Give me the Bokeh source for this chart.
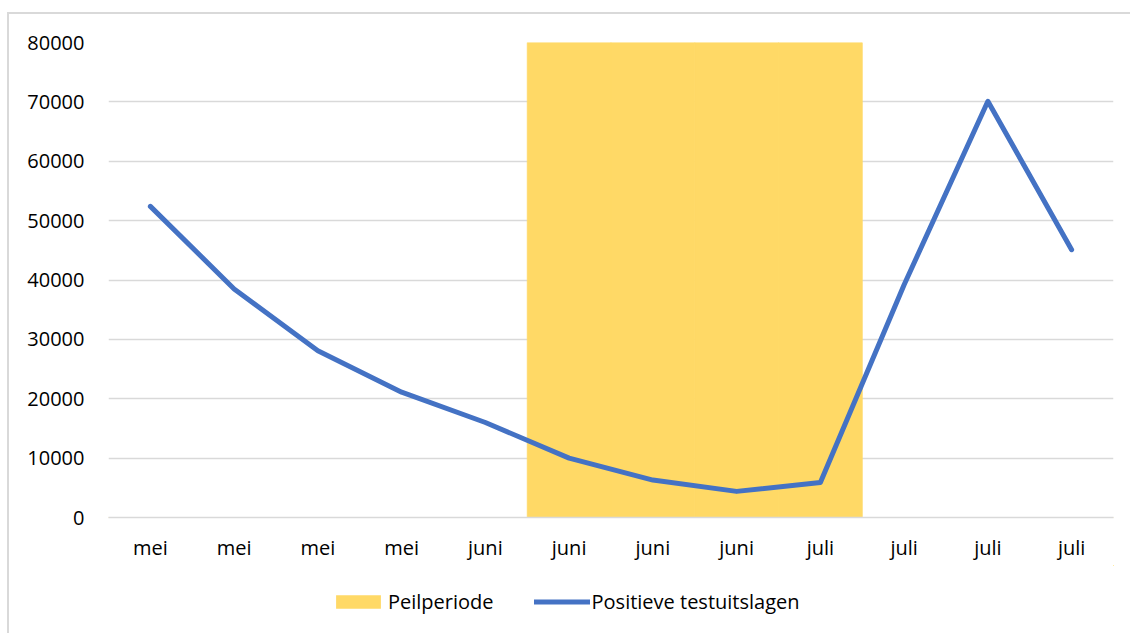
from bokeh.plotting import figure
from bokeh.layouts import column
from bokeh.models import Range1d, FixedTicker, Legend, LegendItem, ColumnDataSource, InlineStyleSheet
from bokeh.embed import file_html
from bokeh.resources import INLINE

categories = ["mei", "mei", "mei", "mei", "juni", "juni", "juni", "juni", "juli", "juli", "juli", "juli"]
positieve_testuitslagen = [52400, 38500, 28100, 21100, 16000, 10000, 6300, 4400, 5900, 39200, 70100, 45100]
peilperiode = [0, 0, 0, 0, 0, 80000, 80000, 80000, 80000, 0, 0, 0]
y_ticks = [0, 10000, 20000, 30000, 40000, 50000, 60000, 70000, 80000]

xs = list(range(1, len(categories) + 1))
src = ColumnDataSource(dict(x=xs, cat=categories, pos=positieve_testuitslagen, peil=peilperiode))

FONT = "Open Sans"
BAR_COLOR = "#FFD966"
LINE_COLOR = "#4472C4"
GRID = "#d9d9d9"

p = figure(width=1130, height=565, output_backend="svg", toolbar_location=None,
           x_range=Range1d(0.5, len(categories) + 0.5), y_range=Range1d(0, 80000),
           min_border_left=108, min_border_right=17, min_border_top=42, min_border_bottom=48)
p.outline_line_color = None
p.background_fill_color = "white"
p.border_fill_color = "white"

p.vbar(x="x", top="peil", width=1.0, source=src, fill_color=BAR_COLOR,
       line_color=BAR_COLOR, line_width=0.8)
p.line(x="x", y="pos", source=src, line_color=LINE_COLOR, line_width=5,
       line_join="round", line_cap="round")

p.xaxis.ticker = FixedTicker(ticks=xs)
p.xaxis.major_label_overrides = {x: c for x, c in zip(xs, categories)}
p.yaxis.ticker = FixedTicker(ticks=y_ticks)
p.yaxis.formatter.use_scientific = False

for ax in (p.xaxis, p.yaxis):
    ax.major_tick_line_color = None
    ax.minor_tick_line_color = None
    ax.major_label_text_font = FONT
    ax.major_label_text_font_size = "20px"
    ax.major_label_text_color = "#000000"
p.yaxis.axis_line_color = None
p.yaxis.major_label_standoff = 18
p.xaxis.axis_line_color = GRID
p.xaxis.axis_line_width = 1.5
p.xaxis.major_label_standoff = 10

p.xgrid.grid_line_color = None
p.ygrid.grid_line_color = GRID
p.ygrid.grid_line_width = 1.5

p.stylesheets = [InlineStyleSheet(css="""
:host::after {
  content: ""; position: absolute;
  left: 7px; top: 12px; right: 0; bottom: 0;
  border-left: 2px solid #d9d9d9; border-top: 2px solid #d9d9d9;
  pointer-events: none; z-index: 10;
}
""")]

# legend strip below the chart (its renderers are out of view; only the legend shows)
lg = figure(width=1130, height=68, output_backend="svg", toolbar_location=None,
            x_range=Range1d(-10, -9), y_range=Range1d(-10, -9),
            x_axis_location=None, y_axis_location=None,
            min_border_left=0, min_border_right=0, min_border_top=0, min_border_bottom=0)
lg.outline_line_color = None
lg.grid.grid_line_color = None
lg.border_fill_color = "white"
r_bar = lg.vbar(x="x", top="peil", width=1.0, source=src, fill_color=BAR_COLOR, line_color=None)
r_line = lg.line(x="x", y="pos", source=src, line_color=LINE_COLOR, line_width=5, line_cap="round")

legend = Legend(items=[LegendItem(label="Peilperiode", renderers=[r_bar]),
                       LegendItem(label="Positieve testuitslagen", renderers=[r_line])],
                orientation="horizontal", location=(222, 18),
                glyph_width=56, glyph_height=17, label_standoff=2, spacing=40,
                padding=0, margin=0, border_line_color=None, background_fill_alpha=0,
                label_text_font=FONT, label_text_font_size="20px", label_text_color="#000000")
lg.add_layout(legend, "center")
lg.stylesheets = [InlineStyleSheet(css="""
:host::after {
  content: ""; position: absolute;
  left: 7px; top: 0; right: 0; bottom: 0;
  border-left: 2px solid #d9d9d9;
  pointer-events: none; z-index: 10;
}
""")]

layout = column(p, lg, spacing=0)
open("out.html", "w").write(file_html(layout, INLINE))
